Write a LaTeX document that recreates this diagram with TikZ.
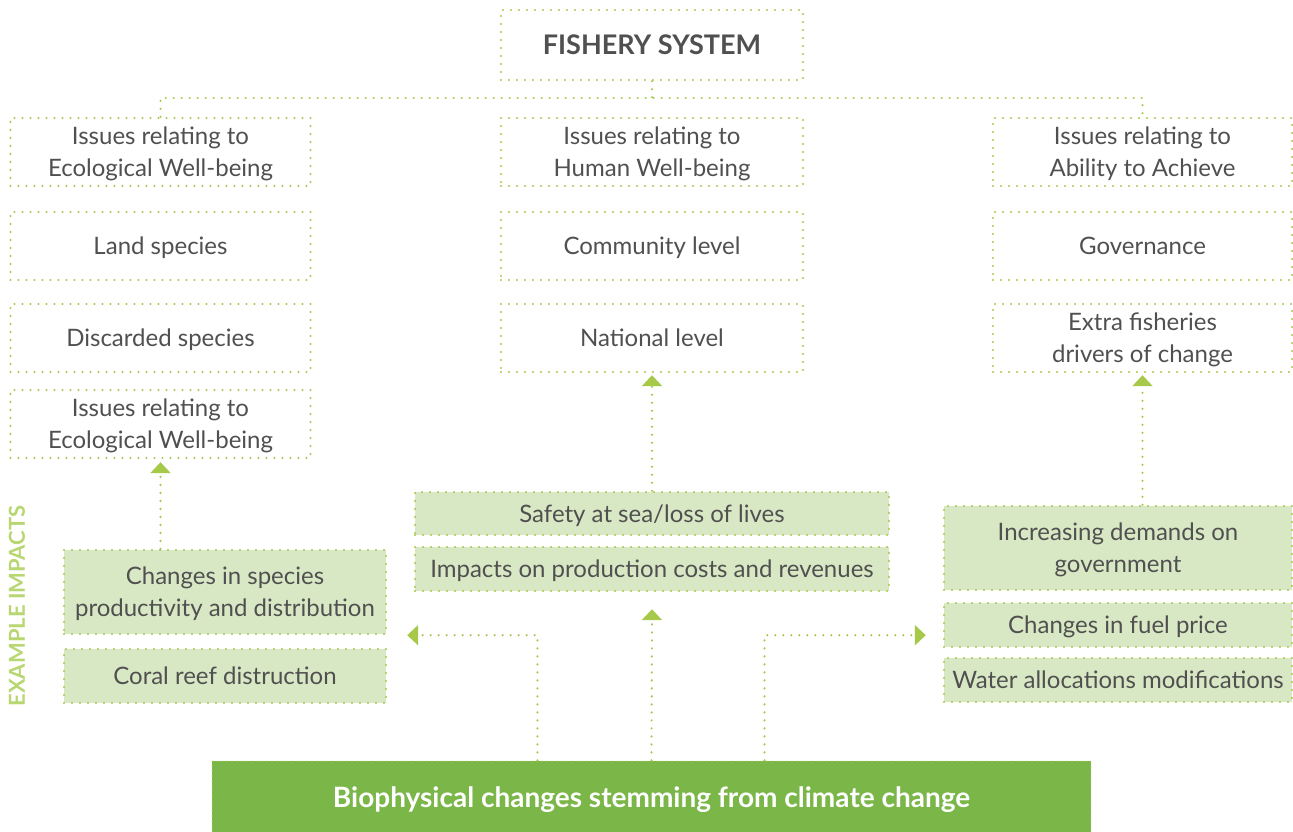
\documentclass[tikz,border=0pt]{standalone}
\usepackage{fontspec}
\setmainfont{Lato}
\usetikzlibrary{arrows.meta,calc}
\definecolor{dotc}{RGB}{166,201,74}
\definecolor{lightg}{RGB}{217,232,196}
\definecolor{darkg}{RGB}{122,182,72}
\definecolor{txt}{RGB}{80,80,80}
\definecolor{labg}{RGB}{184,214,114}
\definecolor{bdot}{RGB}{190,222,120}
\begin{document}
\begin{tikzpicture}[x=1pt,y=-1pt,
  dotline/.style={line width=2.4pt, dash pattern=on 0pt off 8pt, line cap=round},
  box/.style={draw=dotc, dotline, minimum width=300pt, minimum height=68pt, inner sep=0pt,
    align=center, font=\fontsize{24}{32}\selectfont, text=txt, text height=17.4pt, text depth=0pt},
  two/.style={text height=49.4pt, text depth=0pt},
  gbox/.style={box, fill=lightg},
  arr/.style={dotline, draw=dotc, -{Triangle[width=20pt,length=11pt]}},
  conn/.style={dotline, draw=dotc}]
\useasboundingbox (0,0) rectangle (1293,832);
% top
\node[box, minimum width=302pt, minimum height=70pt, text height=19.5pt, font=\bfseries\fontsize{27}{30}\selectfont] (fs) at (652,45) {FISHERY SYSTEM};
% left column
\node[box, two] (h1) at (160.5,152) {Issues relating to\\Ecological Well-being};
\node[box] (l2) at (160.5,246) {Land species};
\node[box] (l3) at (160.5,338) {Discarded species};
\node[box, two] (l4) at (160.5,424) {Issues relating to\\Ecological Well-being};
% middle column
\node[box, two, minimum width=302pt] (h2) at (652,152) {Issues relating to\\Human Well-being};
\node[box, minimum width=302pt] (m2) at (652,246) {Community level};
\node[box, minimum width=302pt] (m3) at (652,338) {National level};
% right column
\node[box, two, minimum width=299pt] (h3) at (1142.5,152) {Issues relating to\\Ability to Achieve};
\node[box, minimum width=299pt] (r2) at (1142.5,246) {Governance};
\node[box, two, minimum width=299pt] (r3) at (1142.5,338) {Extra fisheries\\drivers of change};
% green impacts
\node[gbox, two, minimum width=322pt, minimum height=84pt] (ga) at (225,592) {Changes in species\\productivity and distribution};
\node[gbox, minimum width=322pt, minimum height=54pt] (gb) at (225,676) {Coral reef distruction};
\node[gbox, minimum width=474pt, minimum height=43pt] (gc) at (652,513.5) {Safety at sea/loss of lives};
\node[gbox, minimum width=474pt, minimum height=44pt] (gd) at (652,569) {Impacts on production costs and revenues};
\node[gbox, two, minimum width=348pt, minimum height=84pt] (ge) at (1118,548) {Increasing demands on\\government};
\node[gbox, minimum width=348pt, minimum height=44pt] (gf) at (1118,625) {Changes in fuel price};
\node[gbox, minimum width=348pt, minimum height=44pt] (gg) at (1118,680) {Water allocations modifications};
% bottom
\node[fill=darkg, draw=bdot, line width=1.2pt, dash pattern=on 0pt off 5pt, line cap=round,
  minimum width=879pt, minimum height=72pt, inner sep=0pt, text=white, text height=20.2pt, text depth=0pt,
  font=\bfseries\fontsize{28}{32}\selectfont] (bio) at (651.5,797) {Biophysical changes stemming from climate change};
% side label
\node[rotate=90, text=labg, inner sep=0pt, font=\bfseries\fontsize{22}{26}\selectfont] (ex) at (17,606) {EXAMPLE IMPACTS};
% top connectors
\coordinate (bus) at (652,98);
\draw[conn] (fs.south) -- (bus);
\draw[conn] (h1.north) |- (bus) -| (h3.north);
% impact arrows
\draw[arr, shorten >=3pt] (l4.south |- ga.north) -- (l4.south);
\draw[arr, shorten >=2pt] (gc.north) -- (m3.south);
\draw[arr, shorten >=2pt] (ge.north -| r3.south) -- (r3.south);
% bottom arrows
\draw[arr] ([xshift=-114pt]bio.north) |- ([xshift=20pt]ga.south east);
\draw[arr] (bio.north) -- ([yshift=-17pt]gd.south);
\draw[arr] ([xshift=113pt]bio.north) |- ([xshift=-17pt]gf.west |- ga.south);
\end{tikzpicture}
\end{document}
